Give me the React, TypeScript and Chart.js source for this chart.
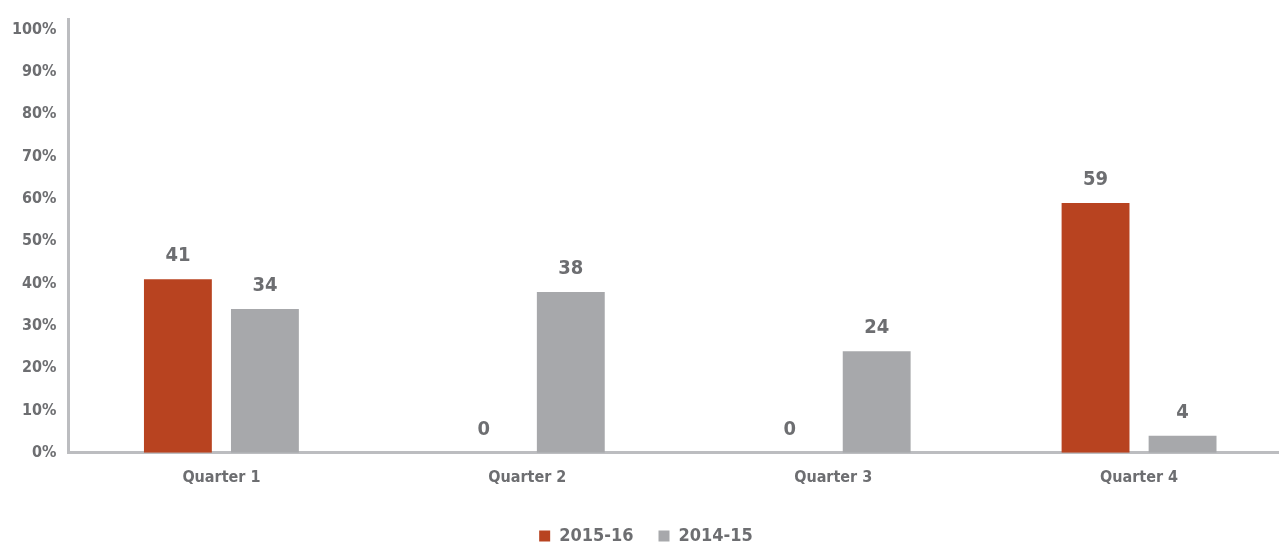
import React, { useEffect, useRef } from "react";
import { Chart, registerables } from "chart.js";

Chart.register(...registerables);

const categories = ["Quarter 1", "Quarter 2", "Quarter 3", "Quarter 4"];
const series2015 = [41, 0, 0, 59];
const series2014 = [34, 38, 24, 4];
const seriesNames = ["2015-16", "2014-15"];
const yTickValues = [0, 10, 20, 30, 40, 50, 60, 70, 80, 90, 100];

const FONT = "'Liberation Sans Narrow', 'DejaVu Sans Condensed', sans-serif";
const TEXT = "#6d6e71";
const AXIS = "#bcbdc0";

const labelPlugin = {
  id: "valueLabels",
  afterDatasetsDraw(chart: any) {
    const ctx = chart.ctx;
    ctx.save();
    ctx.font = `bold 20px ${FONT}`;
    ctx.fillStyle = TEXT;
    ctx.textAlign = "center";
    ctx.textBaseline = "middle";
    chart.data.datasets.forEach((ds: any, i: number) => {
      const meta = chart.getDatasetMeta(i);
      meta.data.forEach((bar: any, j: number) => {
        ctx.fillText(String(ds.data[j]), bar.x, bar.y - 23);
      });
    });
    ctx.restore();
  },
};

export default function App() {
  const ref = useRef<HTMLCanvasElement | null>(null);
  useEffect(() => {
    if (!ref.current) return;
    const chart = new Chart(ref.current, {
      type: "bar",
      data: {
        labels: categories,
        datasets: [
          { label: seriesNames[0], data: series2015, backgroundColor: "#b84320" },
          { label: seriesNames[1], data: series2014, backgroundColor: "#a7a8ab" },
        ],
      },
      options: {
        animation: false,
        responsive: true,
        maintainAspectRatio: false,
        layout: { padding: { left: 0, right: 0, top: 0, bottom: 0 } },
        datasets: { bar: { categoryPercentage: 0.569, barPercentage: 0.78 } },
        plugins: {
          legend: {
            position: "bottom",
            labels: {
              boxWidth: 11,
              boxHeight: 11,
              padding: 25,
              color: TEXT,
              font: { family: FONT, size: 18, weight: "bold" },
            },
          },
          tooltip: { enabled: false },
        },
        scales: {
          x: {
            grid: { display: false, drawTicks: false },
            border: { color: AXIS, width: 3 },
            ticks: { color: TEXT, padding: 15, font: { family: FONT, size: 16, weight: "bold" } },
          },
          y: {
            min: 0,
            max: 102.35,
            grid: { display: false, drawTicks: false },
            border: { color: AXIS, width: 3 },
            afterBuildTicks: (axis: any) => {
              axis.ticks = yTickValues.map((v) => ({ value: v }));
            },
            ticks: {
              color: TEXT,
              padding: 12,
              font: { family: FONT, size: 16, weight: "bold" },
              callback: (v: any) => `${v}%`,
            },
          },
        },
      },
      plugins: [labelPlugin],
    });
    return () => chart.destroy();
  }, []);
  return (
    <div style={{ position: "fixed", left: 0, top: 0, width: 1279, height: 543, overflow: "hidden", background: "#fff" }}>
      <div style={{ position: "absolute", left: 0, top: -2, width: 1292, height: 557 }}>
        <canvas ref={ref} />
      </div>
    </div>
  );
}
